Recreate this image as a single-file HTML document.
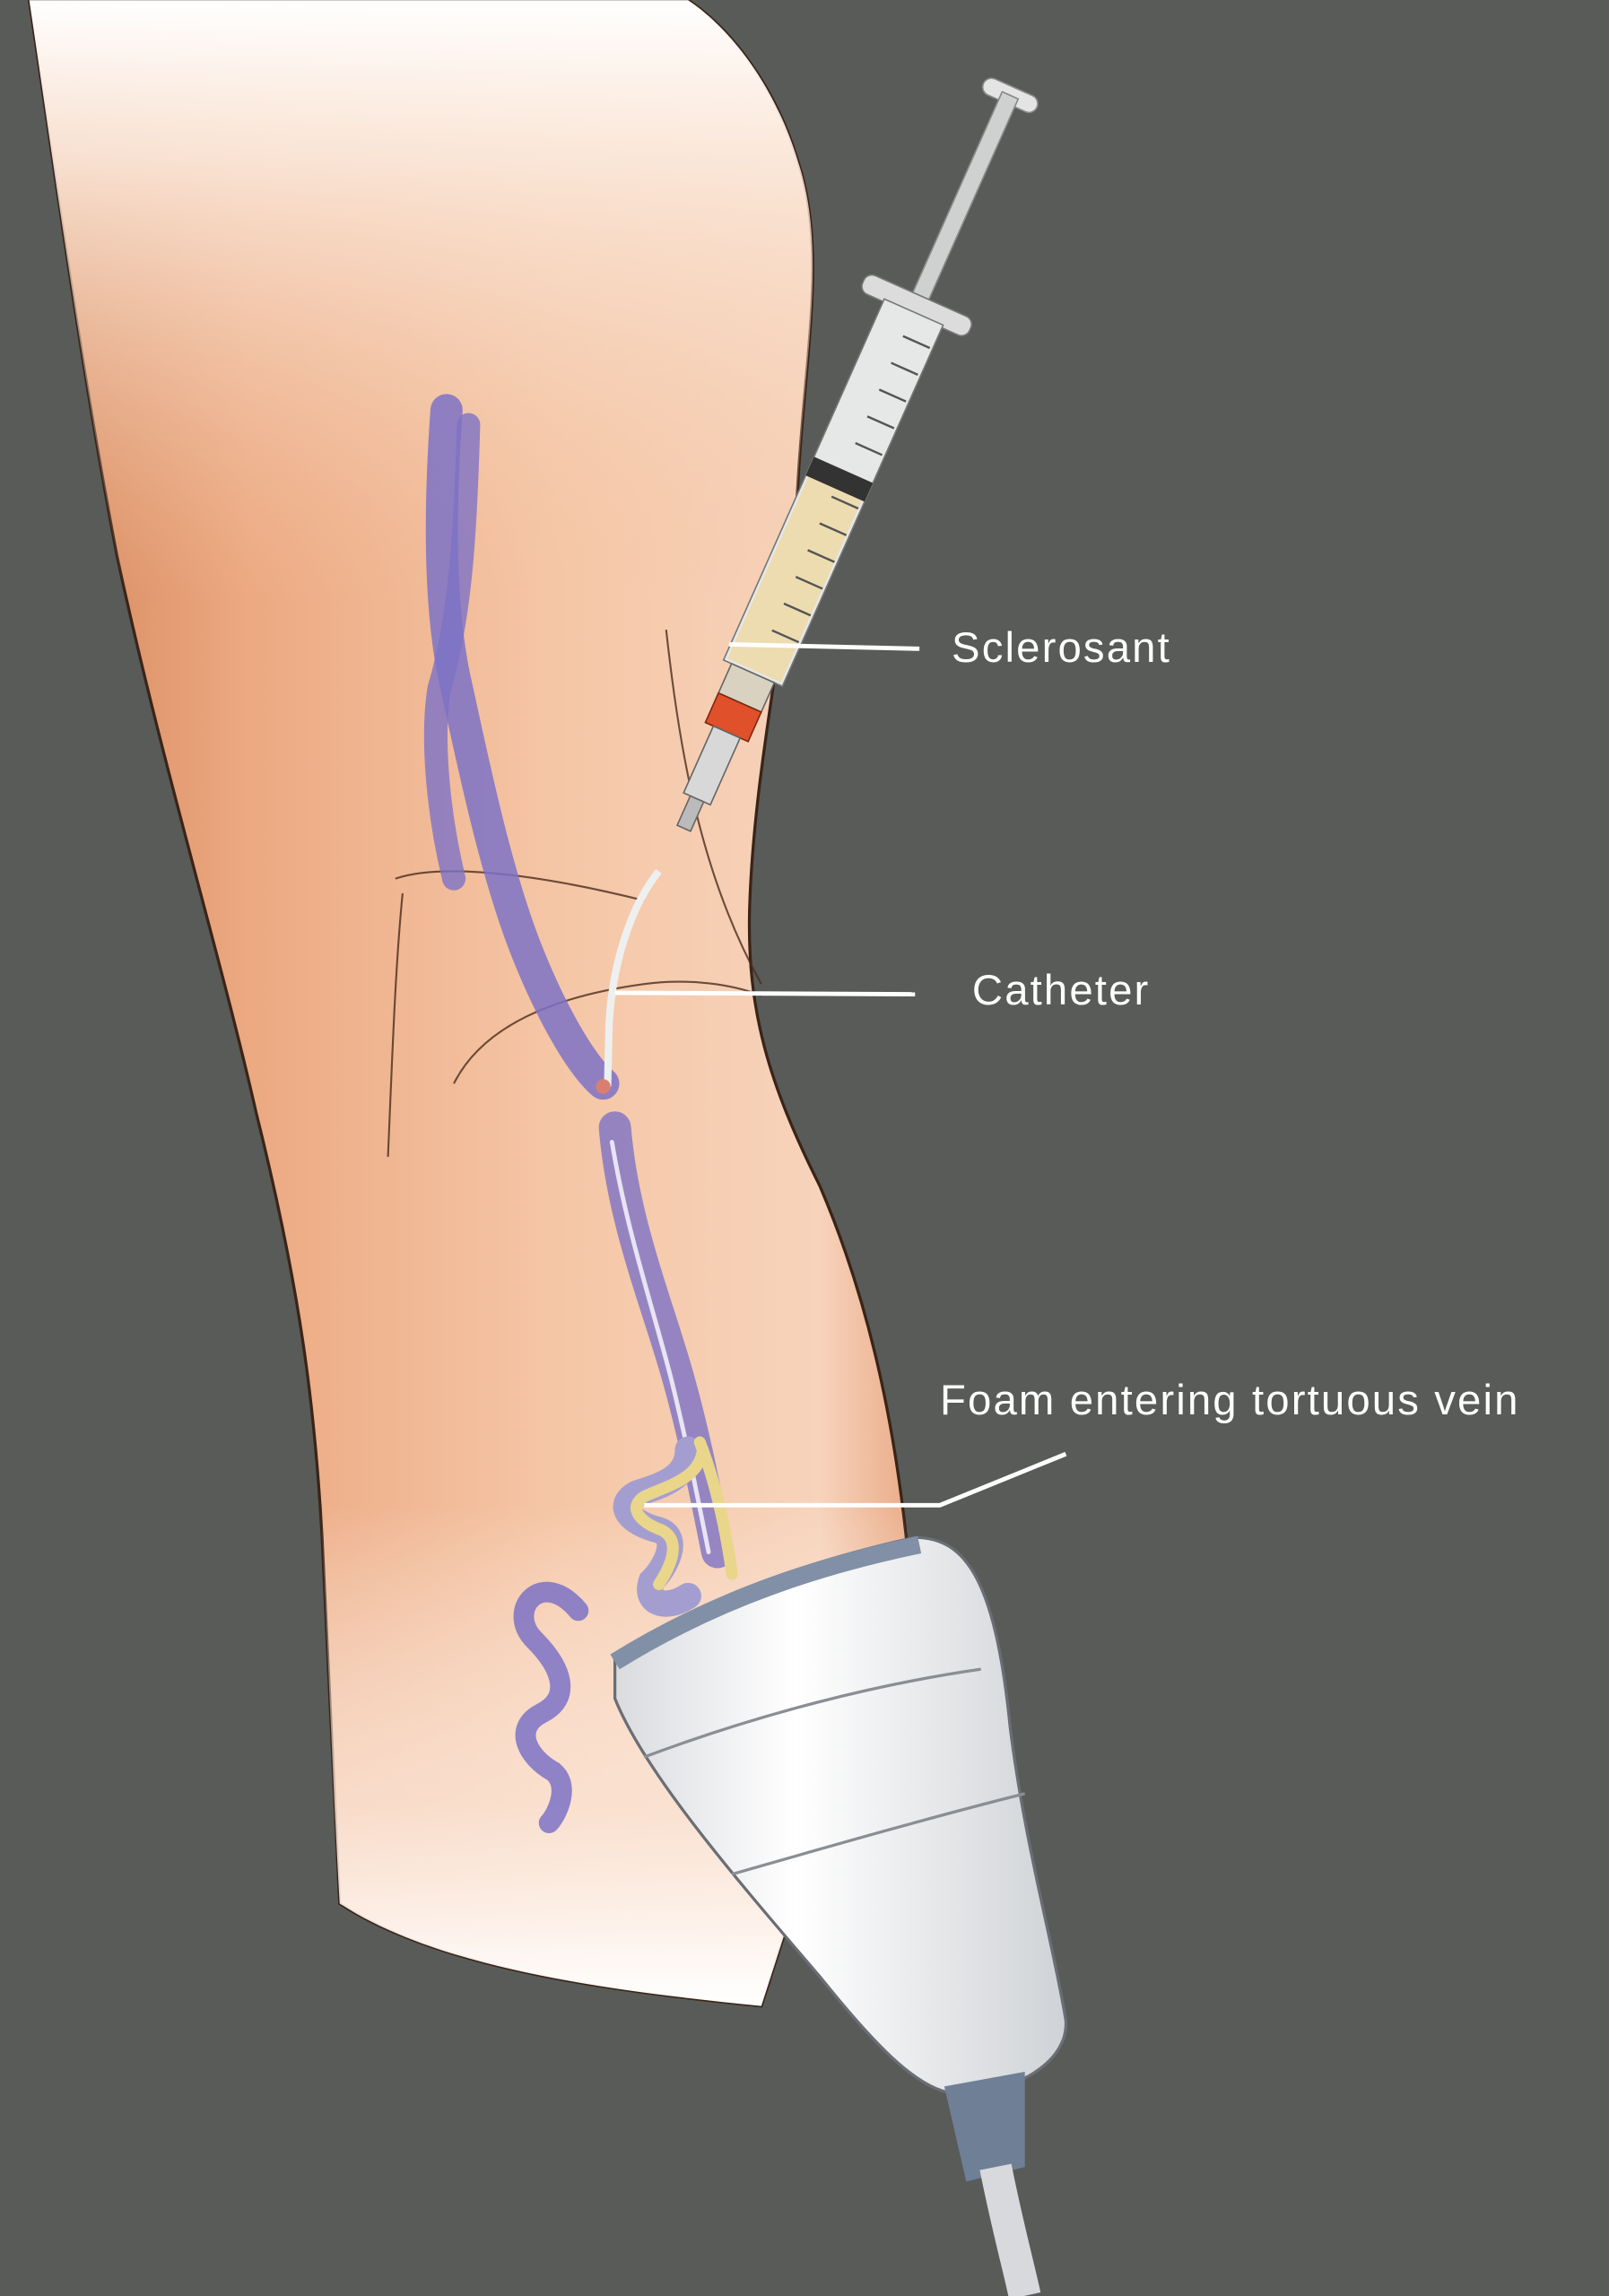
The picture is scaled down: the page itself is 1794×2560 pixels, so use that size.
<!DOCTYPE html>
<html><head><meta charset="utf-8"><style>
html,body{margin:0;padding:0;background:#585b58;}
svg{display:block}
</style></head><body>
<svg width="1794" height="2560" viewBox="0 0 1099 1568" xmlns="http://www.w3.org/2000/svg">
<defs>
<linearGradient id="skin" x1="0" y1="0" x2="1" y2="0">
<stop offset="0" stop-color="#d4865a"/>
<stop offset="0.25" stop-color="#eca982"/>
<stop offset="0.6" stop-color="#f5c6a6"/>
<stop offset="0.9" stop-color="#f7d3bb"/>
<stop offset="1" stop-color="#eaad8a"/>
</linearGradient>
<linearGradient id="top" x1="0" y1="0" x2="0" y2="1">
<stop offset="0" stop-color="#ffffff"/>
<stop offset="0.08" stop-color="#fbe9dc" stop-opacity="0.9"/>
<stop offset="0.3" stop-color="#f3c4a3" stop-opacity="0"/>
</linearGradient>
<linearGradient id="bot" x1="0" y1="0" x2="0" y2="1">
<stop offset="0.75" stop-color="#fff" stop-opacity="0"/>
<stop offset="0.9" stop-color="#fbe6d8" stop-opacity="0.8"/>
<stop offset="1" stop-color="#fff"/>
</linearGradient>
<linearGradient id="probe" x1="0" y1="0" x2="1" y2="0">
<stop offset="0" stop-color="#d9dbdf"/>
<stop offset="0.4" stop-color="#ffffff"/>
<stop offset="1" stop-color="#cfd2d6"/>
</linearGradient>
</defs>
<rect width="1099" height="1568" fill="#585b58"/>
<path d="M20,0 C35,100 55,250 80,380 C110,520 150,650 175,760 C205,880 215,960 220,1050 C225,1150 228,1230 232,1300 C300,1345 420,1360 520,1370 L620,1060 C610,960 590,880 560,810 C525,740 510,690 512,620 C515,520 540,420 545,330 C550,240 565,170 545,110 C530,60 500,20 470,0 Z" fill="url(#skin)" stroke="#3a2418" stroke-width="2"/>
<path d="M20,0 C35,100 55,250 80,380 C110,520 150,650 175,760 C205,880 215,960 220,1050 C225,1150 228,1230 232,1300 C300,1345 420,1360 520,1370 L620,1060 C610,960 590,880 560,810 C525,740 510,690 512,620 C515,520 540,420 545,330 C550,240 565,170 545,110 C530,60 500,20 470,0 Z" fill="url(#top)"/>
<path d="M20,0 C35,100 55,250 80,380 C110,520 150,650 175,760 C205,880 215,960 220,1050 C225,1150 228,1230 232,1300 C300,1345 420,1360 520,1370 L620,1060 C610,960 590,880 560,810 C525,740 510,690 512,620 C515,520 540,420 545,330 C550,240 565,170 545,110 C530,60 500,20 470,0 Z" fill="url(#bot)"/>
<g fill="none" stroke="#4a2c1c" stroke-width="1.3" opacity="0.8">
<path d="M270,600 C300,590 360,595 440,615"/>
<path d="M310,740 C330,700 380,680 440,672 C470,668 500,672 520,680"/>
<path d="M455,430 C465,520 480,600 520,672"/>
<path d="M275,610 C270,660 268,720 265,790"/>
</g>
<g fill="none" stroke-linecap="round">
<path d="M305,280 C300,350 300,420 312,470 C325,530 340,600 360,650 C380,700 400,730 412,740" stroke="#7d72c6" stroke-width="22" opacity="0.85"/>
<path d="M320,290 C318,360 315,420 300,470 C295,500 298,550 310,600" stroke="#7d72c6" stroke-width="16" opacity="0.8"/>
<path d="M420,770 C425,830 445,880 460,930 C472,970 480,1010 490,1060" stroke="#7d72c6" stroke-width="22" opacity="0.8"/>
<path d="M418,780 C428,840 445,890 458,940 C468,980 476,1020 484,1060" stroke="#e8e4f4" stroke-width="3"/>
<path d="M395,1100 C370,1070 345,1100 365,1120 C385,1140 390,1160 370,1170 C350,1180 360,1200 378,1210 C390,1220 380,1240 375,1245" stroke="#7d72c6" stroke-width="14" opacity="0.85"/>
<path d="M470,990 C470,1010 450,1015 435,1020 C420,1028 430,1040 450,1045 C465,1050 455,1070 445,1080 C440,1095 455,1100 470,1090" stroke="#a49ed0" stroke-width="18"/>
<path d="M480,990 C478,1010 455,1015 440,1022 C428,1030 438,1040 452,1045 C466,1052 458,1070 450,1082" stroke="#e9d68a" stroke-width="8"/>
<path d="M478,985 C488,1010 495,1040 500,1075" stroke="#e9d68a" stroke-width="8"/>
</g>
<path d="M450,595 C430,620 418,660 416,700 L415,742" fill="none" stroke="#eef0f0" stroke-width="5"/>
<circle cx="412" cy="742" r="5" fill="#d78070"/>
<g transform="translate(690,65) rotate(24)">
<rect x="-20" y="-6" width="40" height="12" rx="6" fill="#e4e4e4" stroke="#888"/>
<rect x="-6" y="0" width="12" height="150" fill="#cfd1d1" stroke="#888"/>
<rect x="-40" y="150" width="80" height="14" rx="6" fill="#dcdcdc" stroke="#777"/>
<rect x="-22" y="162" width="44" height="270" fill="#e6e8e8" stroke="#777"/>
<rect x="-20" y="280" width="40" height="150" fill="#ecdcb0"/>
<rect x="-22" y="280" width="44" height="14" fill="#333"/>
<g stroke="#555" stroke-width="1.5">
<line x1="0" y1="180" x2="20" y2="180"/><line x1="0" y1="200" x2="20" y2="200"/><line x1="0" y1="220" x2="20" y2="220"/><line x1="0" y1="240" x2="20" y2="240"/><line x1="0" y1="260" x2="20" y2="260"/><line x1="0" y1="300" x2="20" y2="300"/><line x1="0" y1="320" x2="20" y2="320"/><line x1="0" y1="340" x2="20" y2="340"/><line x1="0" y1="360" x2="20" y2="360"/><line x1="0" y1="380" x2="20" y2="380"/><line x1="0" y1="400" x2="20" y2="400"/>
</g>
<rect x="-16" y="432" width="32" height="22" fill="#d9d2c0" stroke="#666"/>
<rect x="-16" y="454" width="32" height="22" fill="#e0502a" stroke="#7a2a10"/>
<rect x="-10" y="476" width="20" height="50" fill="#d8d8d8" stroke="#666"/>
<rect x="-5" y="526" width="10" height="22" fill="#bbb" stroke="#666"/>
</g>
<path d="M420,1130 C500,1080 580,1060 625,1050 C660,1050 680,1080 690,1180 C700,1260 720,1330 728,1380 C730,1410 690,1430 655,1430 C630,1430 600,1400 560,1350 C500,1280 440,1210 420,1160 Z" fill="url(#probe)" stroke="#6a6e74" stroke-width="2"/>
<path d="M420,1135 C500,1085 580,1065 628,1055" fill="none" stroke="#8190a6" stroke-width="12"/>
<path d="M440,1200 C520,1170 600,1150 670,1140" fill="none" stroke="#8a8e94" stroke-width="2"/>
<path d="M500,1280 C570,1260 640,1240 700,1225" fill="none" stroke="#8a8e94" stroke-width="2"/>
<path d="M645,1425 L660,1490 L700,1480 L700,1415 Z" fill="#6f7f96"/>
<path d="M680,1480 C688,1520 695,1545 700,1568" fill="none" stroke="#d7d9dc" stroke-width="22"/>
<g stroke="#fff" stroke-width="3" fill="none">
<line x1="498" y1="440" x2="628" y2="443"/>
<line x1="420" y1="678" x2="625" y2="679"/>
<polyline points="440,1028 642,1028 728,993"/>
</g>
<g fill="#fff" font-family="Liberation Sans, sans-serif" font-size="29" letter-spacing="1.3">
<text x="650" y="452">Sclerosant</text>
<text x="664" y="686">Catheter</text>
<text x="642" y="966">Foam entering tortuous vein</text>
</g>
</svg>
</body></html>
